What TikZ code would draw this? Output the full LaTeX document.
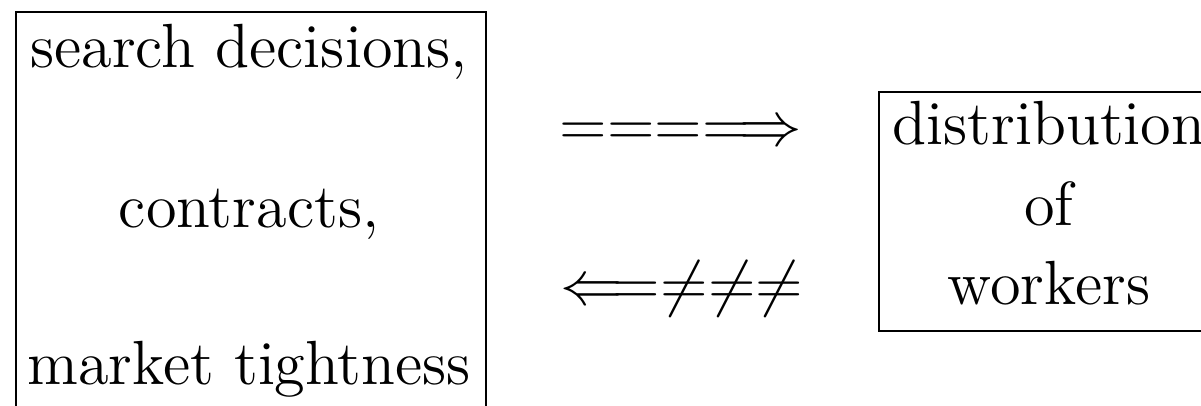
\documentclass[tikz,border=0pt]{standalone}
\begin{document}
\begin{tikzpicture}[x=0.1923pt,y=-0.1923pt,
  txt/.style={anchor=base,inner sep=0pt,font=\large},
  boxnode/.style={draw,line width=0.4pt,inner sep=0pt,anchor=north west}]
\useasboundingbox (0,0) rectangle (1201,406);
\clip (0,0) rectangle (1201,406);
% boxes
\node (L) [boxnode,minimum width=90.38pt,minimum height=80.6pt] at (15,11) {};
\node (R) [boxnode,minimum width=64.8pt,minimum height=45.96pt] at (878,91) {};
% left text
\node (l1) [txt] at (249,68) {search decisions,};
\node (l2) [txt] at (249,228) {contracts,};
\node (l3) [txt] at (249,385) {market tightness};
% right text
\node (r1) [txt] at (1049,145) {distribution};
\node (r2) [txt] at (1049,226) {of};
\node (r3) [txt] at (1049,305) {workers};
% arrows
\node (a1) [txt] at (681,146) {$===\Longrightarrow$};
\node (a2) [txt] at (682,305) {$\Longleftarrow\neq\neq\neq$};
\end{tikzpicture}
\end{document}
